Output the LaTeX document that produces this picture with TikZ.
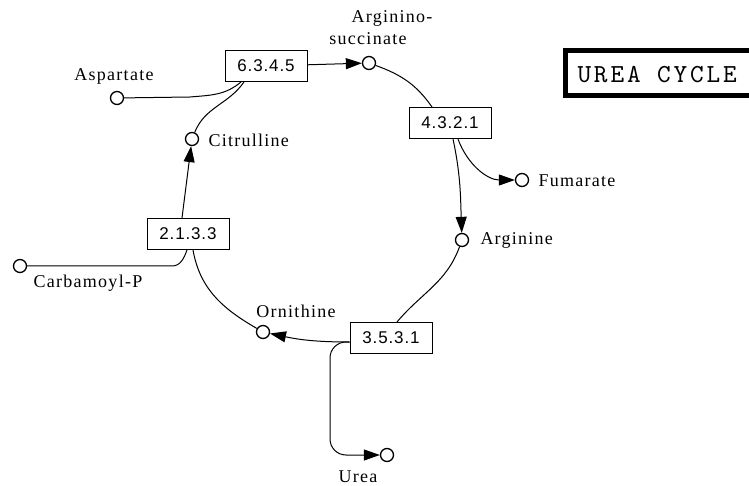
\documentclass[tikz,border=0pt]{standalone}
\usepackage{fontspec}
\setmainfont{Liberation Serif}
\newfontfamily\labfont[LetterSpace=7]{Liberation Serif}
\newfontfamily\ecfont[LetterSpace=5]{Liberation Sans}
\newfontfamily\ttlfont[LetterSpace=11]{lmmono10-regular.otf}
\usetikzlibrary{arrows.meta}

\begin{document}
\begin{tikzpicture}[x=1pt, y=1pt, line width=1pt,
		met/.style={circle, draw, line width=1.3pt, fill=white, minimum size=13pt, inner sep=0pt},
		enz/.style={draw, fill=white, minimum width=82pt, minimum height=31pt, inner sep=0pt, font=\ecfont\fontsize{17}{20}\selectfont},
		lab/.style={inner sep=0pt, font=\labfont\fontsize{18}{20}\selectfont},
		arr/.style={-{Triangle[length=16pt,width=11pt]}}]
		
		\clip (0,0) rectangle (749,485);
		
		% metabolites
		\node[met] (asp) at (117,387) {};
		\node[met] (as) at (369,422) {};
		\node[met] (fum) at (522,305) {};
		\node[met] (arg) at (462,245) {};
		\node[met] (orn) at (263,153) {};
		\node[met] (urea) at (387,30) {};
		\node[met] (carb) at (20,219) {};
		\node[met] (cit) at (192,346) {};
		
		\node[lab, anchor=base] (asp-l) at (114,404) {Aspartate};
		\node[lab, anchor=base] (as-l1) at (392,462) {Arginino-};
		\node[lab, anchor=base] (as-l2) at (368,440) {succinate};
		\node[lab, anchor=base west] (fum-l) at (538,298) {Fumarate};
		\node[lab, anchor=base west] (arg-l) at (480,240) {Arginine};
		\node[lab, anchor=base] (orn-l) at (296,168) {Ornithine};
		\node[lab, anchor=base] (urea-l) at (358,3) {Urea};
		\node[lab, anchor=base] (carb-l) at (88,197) {Carbamoyl-P};
		\node[lab, anchor=base west] (cit-l) at (208,338) {Citrulline};
		
		% enzymes
		\node[enz] (e6345) at (266,419) {6.3.4.5};
		\node[enz] (e4321) at (450,362) {4.3.2.1};
		\node[enz] (e3531) at (391,147) {3.5.3.1};
		\node[enz] (e2133) at (188,251) {2.1.3.3};
		
		\coordinate (aspk) at (190,388);
		\coordinate (carbk) at (172,219);
		\coordinate (ubend) at (330,100);
		
		\draw (asp) -- (aspk) to[out=5,in=-140] ([xshift=-25pt]e6345.south);
		\draw (cit) to[out=68,in=-125] ([xshift=-22pt]e6345.south);
		\draw[arr] (e6345) -- (as);
		\draw (as) to[out=-20,in=125] ([xshift=-18pt]e4321.north);
		\draw[arr] ([xshift=3pt]e4321.south) to[out=-78,in=92] (arg);
		\draw[arr] ([xshift=8pt]e4321.south) to[out=-70,in=180] (fum);
		\draw (arg) to[out=-110,in=50] ([xshift=6pt]e3531.north);
		\draw[arr] ([yshift=-4pt]e3531.west) to[out=180,in=-12] (orn);
		\draw[arr, rounded corners=16pt] ([yshift=-4pt]e3531.west) -| (ubend) |- (urea);
		\draw (orn) to[out=150,in=-80] ([xshift=5pt]e2133.south);
		\draw (carb) -- (carbk) to[out=0,in=-110] ([xshift=-1pt]e2133.south);
		\draw[arr] ([xshift=-6pt]e2133.north) -- (cit);
		
		% title
		\node[draw, line width=5pt, minimum width=240pt, minimum height=45pt, anchor=west, inner sep=0pt] (ttlbox) at (562.5,412) {};
		\node[anchor=west, inner sep=0pt, font=\ttlfont\fontsize{26}{30}\selectfont] (ttl) at (577,410.5) {UREA CYCLE};
	\end{tikzpicture}
\end{document}
